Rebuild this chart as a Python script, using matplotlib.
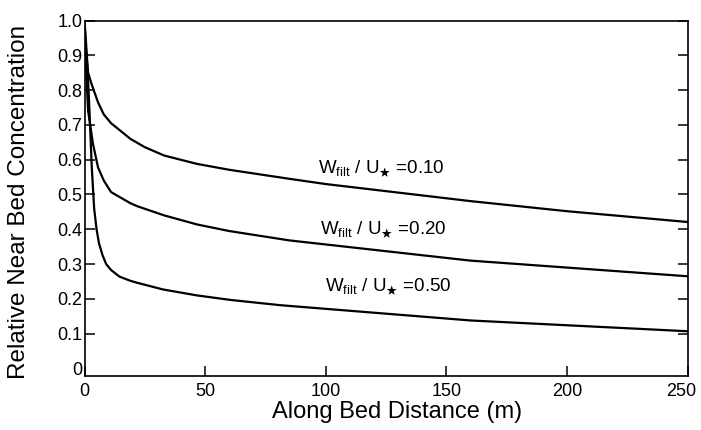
import matplotlib
matplotlib.use("Agg")
import matplotlib.pyplot as plt
import matplotlib.transforms as mtransforms

plt.rcParams['font.family'] = ['Liberation Sans', 'DejaVu Sans']
plt.rcParams['mathtext.fontset'] = 'custom'
plt.rcParams['mathtext.rm'] = 'Liberation Sans'
plt.rcParams['mathtext.it'] = 'Liberation Sans'
plt.rcParams['mathtext.bf'] = 'Liberation Sans:bold'

# Data
x_010 = [0, 0.5, 1.5, 2.8, 5.6, 8, 11, 19, 25, 33, 46.6, 60, 85, 100, 160, 200, 250]
y_010 = [1.0, 0.92, 0.85, 0.82, 0.765, 0.73, 0.705, 0.66, 0.636, 0.612, 0.588, 0.571, 0.545, 0.53, 0.481, 0.452, 0.421]

x_020 = [0, 0.5, 1.5, 3.5, 5.6, 8, 11, 19, 22, 33, 46.6, 60, 85, 160, 250]
y_020 = [1.0, 0.88, 0.74, 0.646, 0.578, 0.54, 0.507, 0.475, 0.466, 0.44, 0.414, 0.395, 0.368, 0.31, 0.265]

x_050 = [0, 1, 2, 3, 4, 5, 6, 7.5, 9, 11, 14.5, 19, 22, 32.6, 46.6, 60.5, 81, 160, 250]
y_050 = [1.0, 0.9, 0.75, 0.58, 0.46, 0.40, 0.36, 0.325, 0.30, 0.283, 0.264, 0.252, 0.246, 0.227, 0.21, 0.197, 0.182, 0.138, 0.107]

ratios = ["0.10", "0.20", "0.50"]
label_x = [96.9, 97.7, 99.8]
label_y = [0.561, 0.386, 0.221]

xticks = [0, 50, 100, 150, 200, 250]
xticklabels = ["0", "50", "100", "150", "200", "250"]
yticks = [0, 0.1, 0.2, 0.3, 0.4, 0.5, 0.6, 0.7, 0.8, 0.9, 1.0]
yticklabels = ["0", "0.1", "0.2", "0.3", "0.4", "0.5", "0.6", "0.7", "0.8", "0.9", "1.0"]

fig = plt.figure(figsize=(7.01, 4.30), dpi=100)
ax = fig.add_axes([84.5 / 701, (430 - 376) / 430, (687.5 - 84.5) / 701, (376 - 20.5) / 430])

for xs, ys in [(x_010, y_010), (x_020, y_020), (x_050, y_050)]:
    ax.plot(xs, ys, color='black', lw=1.6, solid_joinstyle='round')

for r, lx, ly in zip(ratios, label_x, label_y):
    ax.text(lx, ly, r"W$_{\mathrm{filt}}$ / U$_{\bigstar}$ =" + r, fontsize=13.5,
            ha='left', va='baseline', color='black')

ax.set_xlim(0, 250)
ax.set_ylim(-0.0216, 1.0)
ax.set_xticks(xticks)
ax.set_xticklabels(xticklabels)
ax.set_yticks(yticks)
ax.set_yticklabels(yticklabels)

ax.tick_params(axis='both', direction='in', length=7.5, width=1.1, labelsize=13, color='black')
ax.tick_params(axis='y', right=True, labelright=False, pad=1.5)
ax.tick_params(axis='x', top=False, pad=5)
yt = ax.yaxis.get_major_ticks()
yt[0].tick1line.set_visible(False)
yt[0].tick2line.set_visible(False)

# nudge the last x tick label inward so it stays within the figure
last = ax.get_xticklabels()[-1]
last.set_transform(last.get_transform() + mtransforms.ScaledTranslation(-6 / 100, 0, fig.dpi_scale_trans))

for s in ax.spines.values():
    s.set_linewidth(1.2)

ax.set_xlabel("Along Bed Distance (m)", fontsize=17)
ax.xaxis.set_label_coords(0.518, -0.101)
ax.xaxis.label.set_va('center')
ax.set_ylabel("Relative Near Bed Concentration", fontsize=17.5)
ax.yaxis.set_label_coords(-0.1086, 0.491)
ax.yaxis.label.set_va('center')

fig.savefig("out.png", dpi=100)
